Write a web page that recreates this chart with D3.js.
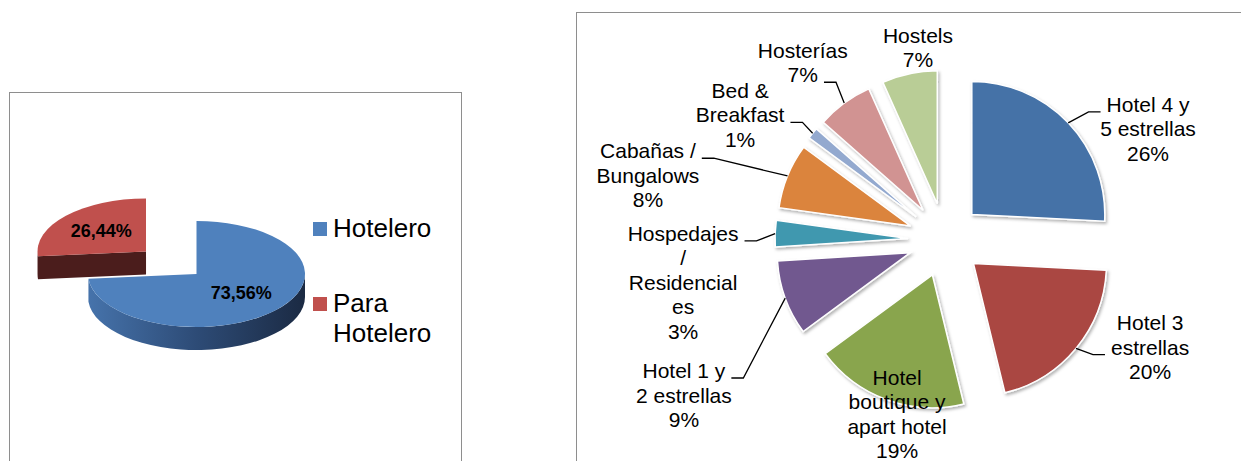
<!DOCTYPE html>
<html>
<head>
<meta charset="utf-8">
<script src="https://cdn.jsdelivr.net/npm/d3@7"></script>
<style>
body { margin: 0; background: #fff; }
text { font-family: "Liberation Sans", Arial, sans-serif; }
</style>
</head>
<body>
<div id="chart"></div>
<script>
// left chart: hotel vs para-hotel share
var sectors = ["Hotelero", "Para Hotelero"];
var sectorValues = [73.56, 26.44];
var sectorLabels = ["73,56%", "26,44%"];
var legendLines = [["Hotelero"], ["Para", "Hotelero"]];

// right chart: lodging types
var types = ["Hotel 4 y 5 estrellas", "Hotel 3 estrellas", "Hotel boutique y apart hotel",
             "Hotel 1 y 2 estrellas", "Hospedajes / Residenciales", "Cabañas / Bungalows",
             "Bed & Breakfast", "Hosterías", "Hostels"];
var typeValues = [25.8, 20.4, 18.7, 9.1, 3.2, 7.9, 1.4, 6.8, 6.7];
var typeLines = [["Hotel 4 y", "5 estrellas"], ["Hotel 3", "estrellas"],
                 ["Hotel", "boutique y", "apart hotel"], ["Hotel 1 y", "2 estrellas"],
                 ["Hospedajes", "/", "Residencial", "es"], ["Cabañas /", "Bungalows"],
                 ["Bed &", "Breakfast"], ["Hosterías"], ["Hostels"]];

var w = 1241;
var h = 461;

var svg = d3.select("#chart")
    .append("svg")
    .attr("width", w)
    .attr("height", h);

var defs = svg.append("defs");
var grad = defs.append("linearGradient")
    .attr("id", "blueSide")
    .attr("x1", 0).attr("x2", 1).attr("y1", 0).attr("y2", 0);
grad.append("stop").attr("offset", 0).attr("stop-color", "#4673ab");
grad.append("stop").attr("offset", 0.5).attr("stop-color", "#2d4b76");
grad.append("stop").attr("offset", 1).attr("stop-color", "#1b2a43");

var shadow = defs.append("filter").attr("id", "shadow")
    .attr("x", -0.2).attr("y", -0.2).attr("width", 1.4).attr("height", 1.4);
shadow.append("feDropShadow")
    .attr("dx", 1.5).attr("dy", 2).attr("stdDeviation", 1.5)
    .attr("flood-color", "#000").attr("flood-opacity", 0.3);

// frames
svg.append("rect")
    .attr("x", 9.5).attr("y", 92.5)
    .attr("width", 452).attr("height", 420)
    .attr("fill", "none").attr("stroke", "#8e8e8e");

svg.append("rect")
    .attr("x", 576.5).attr("y", 12.5)
    .attr("width", 720).attr("height", 500)
    .attr("fill", "none").attr("stroke", "#8e8e8e");

// ---------- left: 3D pie ----------
var L = {cx: 196.5, cy: 274, rx: 108.5, ry: 53, depth: 23, explode: [0, 0.63]};
var sy = L.ry / L.rx;
var ds = L.depth / sy;   // depth in the unscaled (circular) space

var topColor = d3.scaleOrdinal(sectors, ["#4f81bd", "#c0504d"]);
var sideColor = d3.scaleOrdinal(sectors, ["url(#blueSide)", "#4b1d1c"]);

var pieL = d3.pie().sort(null)(sectorValues);
var arcL = d3.arc().innerRadius(0).outerRadius(L.rx);

function rim(a, r, dy) {
    return [r * Math.sin(a), -r * Math.cos(a) + (dy || 0)];
}

var left = svg.append("g")
    .attr("transform", "translate(" + L.cx + "," + L.cy + ") scale(1," + sy + ")");

// draw back slice first so the front one overlaps it
var order = [1, 0];
order.forEach(function(i) {
    var d = pieL[i];
    var mid = (d.startAngle + d.endAngle) / 2;
    var off = rim(mid, L.explode[i] * L.rx);
    var g = left.append("g").attr("transform", "translate(" + off[0] + "," + off[1] + ")");

    // outer rim, front part only
    var a0 = Math.max(d.startAngle, Math.PI / 2);
    var a1 = Math.min(d.endAngle, Math.PI * 1.5);
    if (a1 > a0) {
        var p = d3.path();
        var s = rim(a0, L.rx);
        p.moveTo(s[0], s[1]);
        p.arc(0, 0, L.rx, a0 - Math.PI / 2, a1 - Math.PI / 2, false);
        var e = rim(a1, L.rx, ds);
        p.lineTo(e[0], e[1]);
        p.arc(0, ds, L.rx, a1 - Math.PI / 2, a0 - Math.PI / 2, true);
        p.closePath();
        g.append("path").attr("d", p.toString()).attr("fill", sideColor(sectors[i]));
    }

    // radial cut faces that face the viewer
    [[d.startAngle, Math.sin(d.startAngle) < -0.01], [d.endAngle, Math.sin(d.endAngle) > 0.01]]
        .forEach(function(c) {
            if (!c[1]) return;
            var q = rim(c[0], L.rx);
            var p2 = d3.path();
            p2.moveTo(0, 0);
            p2.lineTo(q[0], q[1]);
            p2.lineTo(q[0], q[1] + ds);
            p2.lineTo(0, ds);
            p2.closePath();
            g.append("path").attr("d", p2.toString()).attr("fill", sideColor(sectors[i]));
        });

    g.append("path")
        .attr("d", arcL(d))
        .attr("fill", topColor(sectors[i]));
});

// value labels on the 3D pie
pieL.forEach(function(d, i) {
    var mid = (d.startAngle + d.endAngle) / 2;
    var k = L.explode[i] + 0.56;
    svg.append("text")
        .attr("x", L.cx + k * L.rx * Math.sin(mid))
        .attr("y", L.cy - k * L.ry * Math.cos(mid))
        .attr("dy", "0.3em")
        .attr("text-anchor", "middle")
        .style("font-size", "18px")
        .style("font-weight", "bold")
        .attr("fill", "#000")
        .text(sectorLabels[i]);
});

// legend
var legY = [222, 297];
sectors.forEach(function(s, i) {
    svg.append("rect")
        .attr("x", 313).attr("y", legY[i])
        .attr("width", 14).attr("height", 14)
        .attr("fill", topColor(s));
    var t = svg.append("text")
        .attr("x", 333).attr("y", legY[i] + 15)
        .style("font-size", "26px")
        .attr("fill", "#000");
    legendLines[i].forEach(function(line, j) {
        t.append("tspan").attr("x", 333).attr("dy", j === 0 ? 0 : 30).text(line);
    });
});

// ---------- right: exploded pie ----------
var R = {cx: 945, cy: 240, r: 133, explode: 37, lh: 24.5};
var color = d3.scaleOrdinal(types, ["#4572a7", "#aa4643", "#89a54e", "#71588f", "#4198af",
                                    "#db843d", "#93a9cf", "#d19392", "#b9cd96"]);

// label placement: angle (deg, clockwise from top), distance in radii, line that gets the leader
var labelPlace = [[61.3, 1.74, 0], [117.6, 1.74, 1], [195.4, 1.357, -1], [239.3, 2.283, 0],
                  [260.8, 1.995, 0], [282.3, 2.286, 0], [301.4, 1.805, 1], [321.3, 1.71, 1],
                  [352, 1.46, -1]];

var pieR = d3.pie().sort(null)(typeValues);
var arcR = d3.arc().innerRadius(0).outerRadius(R.r);

var right = svg.append("g").attr("transform", "translate(" + R.cx + "," + R.cy + ")");

function apexOf(d) {
    var mid = (d.startAngle + d.endAngle) / 2;
    return [R.explode * Math.sin(mid), -R.explode * Math.cos(mid)];
}

right.selectAll("path.slice")
    .data(pieR)
    .enter().append("path")
    .attr("class", "slice")
    .attr("transform", function(d) { return "translate(" + apexOf(d) + ")"; })
    .attr("d", arcR)
    .attr("fill", function(d, i) { return color(types[i]); })
    .attr("stroke", "#fff")
    .attr("stroke-width", 1.5)
    .attr("filter", "url(#shadow)");

var labelLayer = svg.append("g");
var leaderLayer = svg.append("g");

pieR.forEach(function(d, i) {
    var pl = labelPlace[i];
    var a = pl[0] * Math.PI / 180;
    var bx = R.cx + pl[1] * R.r * Math.sin(a);
    var by = R.cy - pl[1] * R.r * Math.cos(a);
    var lines = typeLines[i].concat([Math.round(typeValues[i]) + "%"]);
    var y0 = by - (lines.length - 1) * R.lh / 2 + 7.5;

    var nodes = [];
    lines.forEach(function(line, j) {
        var t = labelLayer.append("text")
            .attr("x", bx)
            .attr("y", y0 + j * R.lh)
            .attr("text-anchor", "middle")
            .style("font-size", "21px")
            .attr("fill", "#000")
            .text(line);
        nodes.push(t);
    });

    if (pl[2] < 0) return;
    var mid = (d.startAngle + d.endAngle) / 2;
    var ap = apexOf(d);
    var sx = R.cx + ap[0] + R.r * Math.sin(mid);
    var sY = R.cy + ap[1] - R.r * Math.cos(mid);
    var k = pl[2];
    var lw = nodes[k].node().getComputedTextLength();
    var ly = y0 + k * R.lh;
    var ex, elx;
    if (bx > sx) { ex = bx - lw / 2 - 6; elx = ex - 12; }
    else { ex = bx + lw / 2 + 6; elx = ex + 12; }

    leaderLayer.append("path")
        .attr("d", "M" + sx + "," + sY + "L" + elx + "," + ly + "L" + ex + "," + ly)
        .attr("fill", "none")
        .attr("stroke", "#000")
        .attr("stroke-width", 1.3);
});
</script>
</body>
</html>
